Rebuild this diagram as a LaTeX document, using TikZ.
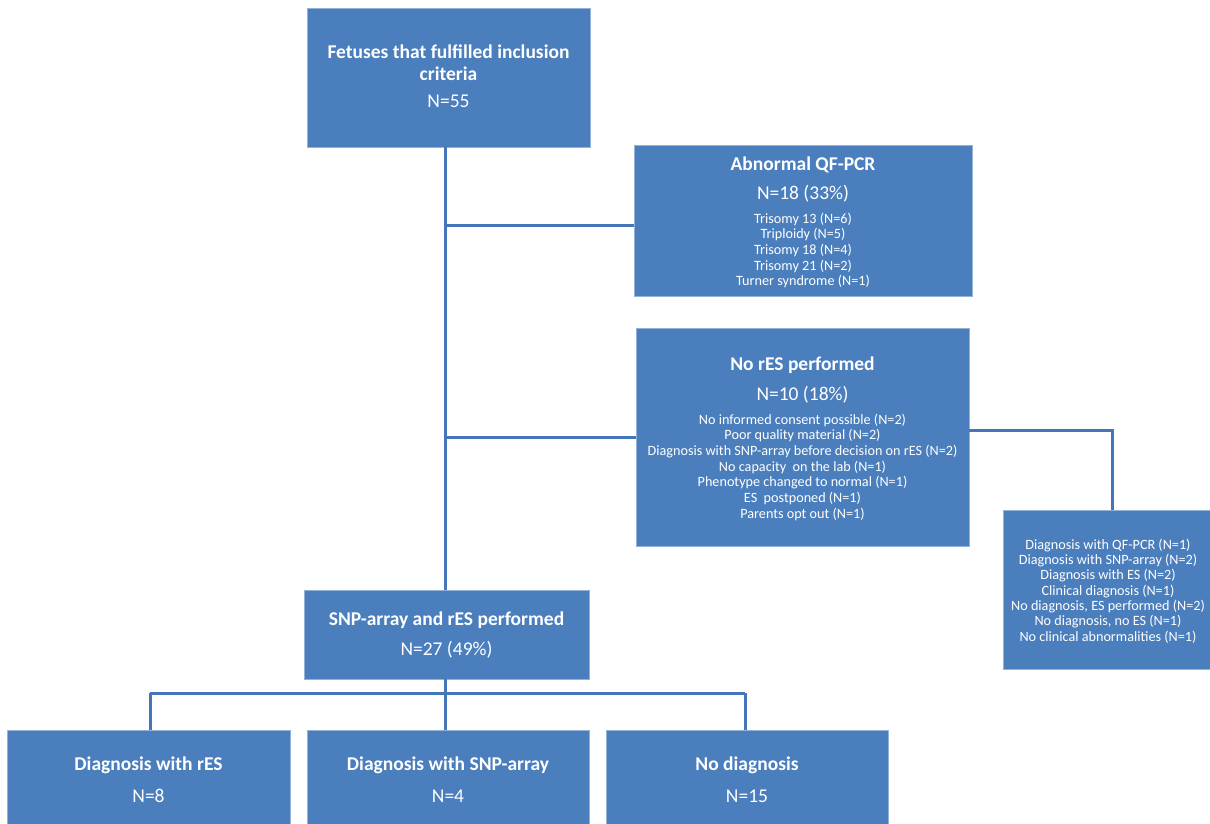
\documentclass[tikz,border=0pt]{standalone}
\usepackage{fontspec}
\setmainfont{Carlito}
\definecolor{boxblue}{RGB}{74,126,189}
\definecolor{lineblue}{RGB}{70,118,186}
\begin{document}
\begin{tikzpicture}[x=1pt,y=-1pt,
  box/.style={fill=boxblue,draw=boxblue!60!white,line width=0.6pt,inner sep=0pt},
  conn/.style={draw=lineblue,line width=3pt},
  ttl/.style={text=white,font=\fontsize{19.5}{22}\selectfont\bfseries,inner sep=0pt,anchor=base},
  num/.style={text=white,font=\fontsize{19.5}{22}\selectfont,inner sep=0pt,anchor=base},
  small/.style={text=white,font=\fontsize{14.2}{15.7}\selectfont,inner sep=0pt,align=center,anchor=north},
  smallr/.style={small,font=\fontsize{14.2}{15.35}\selectfont}]
\useasboundingbox (0,0) rectangle (1210,823);
% boxes
\node[box,minimum width=283pt,minimum height=139pt] (top) at (448.5,77.5) {};
\node[box,minimum width=338pt,minimum height=151pt] (qf) at (803,220.5) {};
\node[box,minimum width=333pt,minimum height=218pt] (nores) at (802.5,437) {};
\node[box,minimum width=207pt,minimum height=159pt] (right) at (1106.5,589.5) {};
\node[box,minimum width=285pt,minimum height=89pt] (snp) at (446.5,634.5) {};
\node[box,minimum width=283pt,minimum height=95pt] (b1) at (148.5,777.5) {};
\node[box,minimum width=282pt,minimum height=95pt] (b2) at (448,777.5) {};
\node[box,minimum width=282pt,minimum height=95pt] (b3) at (747,777.5) {};
% connectors
\coordinate (j1) at (445,225);
\coordinate (j2) at (445,437);
\coordinate (j3) at (1112,430);
\coordinate (j4) at (445,693);
\coordinate (jl) at (150,693);
\coordinate (jr) at (745,693);
\draw[conn] (top.south -| j1) -- (snp.north -| j1);
\draw[conn] (j1) -- (qf.west |- j1);
\draw[conn] (j2) -- (nores.west |- j2);
\draw[conn] (nores.east |- j3) -- (j3) -- (right.north -| j3);
\draw[conn] (snp.south -| j4) -- (j4);
\draw[conn] (jl) -- (jr);
\draw[conn] (jl) -- (b1.north -| jl);
\draw[conn] (j4) -- (b2.north -| j4);
\draw[conn] (jr) -- (b3.north -| jr);
% texts
\node[ttl] (t1) at (448.5,58) {Fetuses that fulfilled inclusion};
\node[ttl] (t2) at (448.5,80) {criteria};
\node[num] (t3) at (448.5,107.5) {N=55};
\node[ttl] (q1) at (803,170.5) {Abnormal QF-PCR};
\node[num] (q2) at (803,199) {N=18 (33\%)};
\node[small] (q3) at (803,212.5) {Trisomy 13 (N=6)\\Triploidy (N=5)\\Trisomy 18 (N=4)\\Trisomy 21 (N=2)\\Turner syndrome (N=1)};
\node[ttl] (n1) at (802.5,370.5) {No rES performed};
\node[num] (n2) at (802.5,400) {N=10 (18\%)};
\node[small] (n3) at (802.5,413.5) {No informed consent possible (N=2)\\Poor quality material (N=2)\\Diagnosis with SNP-array before decision on rES (N=2)\\No capacity\ \ on the lab (N=1)\\Phenotype changed to normal (N=1)\\ES\ \ postponed (N=1)\\Parents opt out (N=1)};
\node[smallr] (r1) at (1108,538.5) {Diagnosis with QF-PCR (N=1)\\Diagnosis with SNP-array (N=2)\\Diagnosis with ES (N=2)\\Clinical diagnosis (N=1)\\No diagnosis, ES performed (N=2)\\No diagnosis, no ES (N=1)\\No clinical abnormalities (N=1)};
\node[ttl] (s1) at (446.5,625.5) {SNP-array and rES performed};
\node[num] (s2) at (446.5,655) {N=27 (49\%)};
\node[ttl] (d1) at (148.5,770.5) {Diagnosis with rES};
\node[num] (d2) at (148.5,802) {N=8};
\node[ttl] (e1) at (448,770.5) {Diagnosis with SNP-array};
\node[num] (e2) at (448,802) {N=4};
\node[ttl] (f1) at (747,770.5) {No diagnosis};
\node[num] (f2) at (747,802) {N=15};
\end{tikzpicture}
\end{document}
